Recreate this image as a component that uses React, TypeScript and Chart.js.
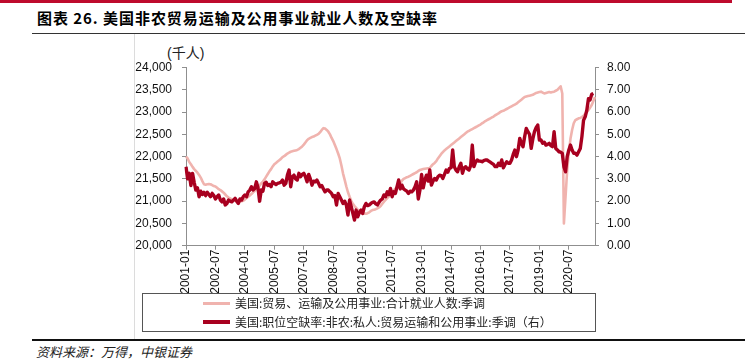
import React, { useEffect, useRef } from 'react';
import { Chart, registerables } from 'chart.js';

Chart.register(...registerables);

// ---- Data ----
const START_YEAR = 2001;
const MONTH_COUNT = 251; // 2001-01 .. 2021-11

const TICK_LABELS = [
  '2001-01', '2002-07', '2004-01', '2005-07', '2007-01', '2008-07', '2010-01',
  '2011-07', '2013-01', '2014-07', '2016-01', '2017-07', '2019-01', '2020-07',
];

const LEFT_TICKS_MIN = 20000;
const LEFT_TICKS_MAX = 24000;
const RIGHT_TICKS_MIN = 0;
const RIGHT_TICKS_MAX = 8;

const SERIES_NAMES = [
  '美国:贸易、运输及公用事业:合计就业人数:季调',
  '美国:职位空缺率:非农:私人:贸易运输和公用事业:季调（右）',
];

// 美国:贸易、运输及公用事业:合计就业人数:季调 (千人)
const EMPLOYMENT = [
  22000, 21960, 21880, 21830, 21770, 21720, 21680, 21640, 21590, 21530, 21450, 21380,
  21370, 21380, 21385, 21380, 21360, 21340, 21330, 21300, 21270, 21250, 21220, 21190,
  21150, 21110, 21080, 21060, 21040, 21020, 21010, 21000, 21000, 20990, 21000, 21010,
  21040, 21070, 21100, 21130, 21160, 21200, 21230, 21270, 21310, 21350, 21400, 21440,
  21490, 21550, 21610, 21670, 21720, 21780, 21830, 21860, 21890, 21920, 21950, 21990,
  22010, 22040, 22070, 22090, 22110, 22120, 22130, 22140, 22150, 22170, 22200, 22230,
  22270, 22320, 22370, 22400, 22420, 22440, 22450, 22470, 22490, 22510, 22550, 22600,
  22640, 22630, 22600, 22560, 22500, 22420, 22350, 22260, 22170, 22070, 21960, 21800,
  21620, 21480, 21330, 21200, 21100, 21010, 20940, 20890, 20850, 20810, 20780, 20750,
  20730, 20720, 20720, 20730, 20750, 20780, 20800, 20810, 20820, 20840, 20860, 20890,
  20940, 20990, 21030, 21070, 21110, 21160, 21200, 21240, 21280, 21320, 21360, 21400,
  21460, 21500, 21520, 21540, 21550, 21570, 21590, 21610, 21630, 21650, 21680, 21700,
  21710, 21720, 21730, 21735, 21740, 21745, 21790, 21830, 21860, 21900, 21960, 22010,
  22060, 22100, 22140, 22170, 22200, 22230, 22260, 22290, 22320, 22350, 22380, 22410,
  22440, 22470, 22500, 22530, 22560, 22580, 22600, 22620, 22640, 22660, 22680, 22700,
  22720, 22750, 22770, 22800, 22820, 22840, 22860, 22880, 22900, 22930, 22950, 22970,
  23000, 23020, 23030, 23050, 23070, 23090, 23110, 23130, 23150, 23170, 23190, 23220,
  23250, 23280, 23310, 23340, 23350, 23360, 23370, 23380, 23390, 23410, 23430, 23440,
  23450, 23460, 23440, 23420, 23430, 23440, 23450, 23440, 23450, 23460, 23480, 23500,
  23540, 23580, 23420, 20500, 21100, 21700, 22100, 22400, 22600, 22750, 22820, 22840,
  22860, 22870, 22890, 22920, 22960, 23000, 23050, 23100, 23160, 23250, 23340,
];

// 美国:职位空缺率:非农:私人:贸易运输和公用事业:季调 (%)
const VACANCY = [
  3.55, 3.0, 3.25, 2.7, 3.25, 2.85, 2.5, 2.6, 2.2, 2.45, 2.3, 2.4,
  2.25, 2.4, 2.3, 2.2, 2.35, 2.25, 2.1, 2.2, 2.28, 2.05, 1.97, 2.1,
  1.83, 1.9, 2.05, 2.0, 1.97, 2.05, 2.13, 2.0, 1.9, 2.1, 2.05, 2.2,
  2.28, 2.2, 2.42, 2.5, 2.65, 2.5, 2.57, 2.87, 2.6, 2.0, 2.5, 2.45,
  2.8, 2.85, 2.7, 2.75, 2.65, 2.87, 2.8, 2.75, 2.8, 2.82, 2.85, 2.95,
  2.72, 2.8, 3.17, 3.4, 2.65, 3.1, 3.17, 3.0, 2.95, 3.25, 3.1, 3.2,
  3.25, 3.1, 2.87, 3.2, 3.0, 2.72, 2.9, 2.87, 2.95, 2.8, 2.65, 2.7,
  2.55, 2.42, 2.5, 2.5, 2.42, 2.35, 2.2, 2.25, 1.83, 2.35, 2.2, 2.05,
  1.9, 2.0, 1.83, 1.38, 2.05, 1.75, 1.45, 1.15, 1.6, 1.3, 1.5, 1.6,
  1.45, 1.75, 1.9, 1.8, 1.83, 1.9, 1.95, 1.97, 1.88, 1.83, 1.95, 2.05,
  2.1, 2.28, 2.2, 2.42, 2.3, 2.57, 2.2, 2.42, 2.35, 2.65, 2.95, 2.55,
  2.72, 2.55, 2.5, 2.45, 2.35, 2.45, 2.42, 2.5, 2.65, 2.87, 2.1, 2.5,
  3.2, 2.6, 2.95, 3.17, 2.9, 3.4, 2.72, 2.9, 3.02, 2.95, 3.1, 3.17,
  3.15, 3.02, 3.2, 3.4, 3.3, 3.47, 3.5, 4.3, 3.55, 3.4, 3.32, 3.55,
  3.7, 3.25, 3.5, 3.55, 3.45, 3.4, 3.6, 4.52, 3.55, 3.75, 3.85, 3.8,
  3.8, 3.77, 3.82, 3.85, 3.85, 3.8, 3.75, 3.7, 3.65, 3.55, 3.55, 3.7,
  3.6, 3.85, 3.5, 3.65, 3.77, 3.7, 3.7, 3.85, 4.1, 4.3, 4.0, 4.3,
  4.82, 4.6, 4.45, 4.9, 5.27, 5.12, 5.0, 4.37, 4.8, 5.12, 5.3, 5.42,
  4.75, 4.75, 4.6, 4.65, 4.52, 4.55, 4.6, 4.5, 4.45, 5.12, 4.37, 4.3,
  4.22, 4.2, 4.15, 3.55, 3.32, 4.0, 4.3, 4.52, 4.3, 4.15, 4.15, 4.07,
  4.22, 4.37, 4.9, 5.64, 5.79, 6.09, 6.6, 6.55, 6.8, 6.84, null,
];

const MONTHS: string[] = [];
for (let i = 0; i < MONTH_COUNT; i++) {
  const y = START_YEAR + Math.floor(i / 12);
  const m = (i % 12) + 1;
  MONTHS.push(`${y}-${String(m).padStart(2, '0')}`);
}

const PINK = '#F0B3AE';
const DARK = '#A8001F';
const AXIS = '#8f8f8f';
const FONT = "'Liberation Sans', Arial, sans-serif";
const CJK = "'Noto Sans CJK SC', 'Noto Sans', sans-serif";

export default function App() {
  const canvasRef = useRef<HTMLCanvasElement | null>(null);

  useEffect(() => {
    if (!canvasRef.current) return;
    const tickSet = new Set(TICK_LABELS);
    const chart = new Chart(canvasRef.current, {
      type: 'line',
      data: {
        labels: MONTHS,
        datasets: [
          {
            label: SERIES_NAMES[1],
            data: VACANCY,
            borderColor: DARK,
            backgroundColor: DARK,
            borderWidth: 3.4,
            pointRadius: 0,
            yAxisID: 'y1',
            order: 1,
          },
          {
            label: SERIES_NAMES[0],
            data: EMPLOYMENT,
            borderColor: PINK,
            backgroundColor: PINK,
            borderWidth: 2.6,
            pointRadius: 0,
            yAxisID: 'y',
            order: 2,
          },
        ],
      },
      options: {
        animation: false,
        responsive: false,
        maintainAspectRatio: false,
        devicePixelRatio: 1,
        layout: { padding: { top: 19.6, left: 0, right: 0, bottom: 0 } },
        plugins: { legend: { display: false }, tooltip: { enabled: false } },
        elements: { line: { tension: 0, borderJoinStyle: 'round', borderCapStyle: 'butt' }, point: { radius: 0 } },
        scales: {
          x: {
            type: 'category',
            offset: false,
            grid: {
              display: true,
              drawOnChartArea: false,
              drawTicks: true,
              tickLength: 4,
              color: (ctx: any) => (tickSet.has(MONTHS[ctx.index]) ? AXIS : 'rgba(0,0,0,0)'),
            },
            border: { display: true, color: AXIS, width: 1 },
            ticks: {
              autoSkip: false,
              maxRotation: 90,
              minRotation: 90,
              padding: 0,
              color: '#111',
              font: { family: FONT, size: 12 },
              callback: (_v: any, idx: number) => (tickSet.has(MONTHS[idx]) ? MONTHS[idx] : ''),
            },
            afterFit: (s: any) => { s.height = 52.3; },
          },
          y: {
            position: 'left',
            min: LEFT_TICKS_MIN,
            max: LEFT_TICKS_MAX,
            grid: { display: true, drawOnChartArea: false, drawTicks: true, tickLength: 4, color: AXIS },
            border: { display: true, color: AXIS, width: 1 },
            ticks: {
              stepSize: 500,
              padding: 10,
              color: '#111',
              font: { family: FONT, size: 12 },
              callback: (v: any) => Number(v).toLocaleString('en-US'),
            },
            afterFit: (s: any) => { s.width = 186; },
          },
          y1: {
            position: 'right',
            min: RIGHT_TICKS_MIN,
            max: RIGHT_TICKS_MAX,
            grid: { display: true, drawOnChartArea: false, drawTicks: true, tickLength: 4, color: AXIS },
            border: { display: true, color: AXIS, width: 1 },
            ticks: {
              stepSize: 1,
              padding: 8,
              color: '#111',
              font: { family: FONT, size: 12 },
              callback: (v: any) => Number(v).toFixed(2),
            },
            afterFit: (s: any) => { s.width = 152; },
          },
        },
      } as any,
    });
    return () => chart.destroy();
  }, []);

  const abs = (style: React.CSSProperties): React.CSSProperties => ({ position: 'absolute', ...style });

  return (
    <div style={{ position: 'fixed', left: 0, top: 0, width: 747, height: 362, background: '#fff', overflow: 'hidden' }}>
      <div style={abs({ left: 0, top: 0, width: 732, height: 3, background: '#BE0A2D' })} />
      <div style={abs({ left: 37, top: 8, fontFamily: CJK, fontWeight: 700, fontSize: 15, lineHeight: '20px', color: '#000', whiteSpace: 'nowrap', letterSpacing: 0.95 })}>
        图表 26. 美国非农贸易运输及公用事业就业人数及空缺率
      </div>
      <div style={abs({ left: 32, top: 33, width: 713, height: 1, background: '#333' })} />
      <div style={abs({ left: 134, top: 34, width: 1, height: 305, background: '#dcdcdc' })} />
      <div style={abs({ left: 167, top: 44, fontFamily: "'Liberation Sans', 'Noto Sans CJK SC', sans-serif", fontSize: 14, lineHeight: '18px', color: '#222', whiteSpace: 'nowrap' })}>
        (千人)
      </div>
      <canvas ref={canvasRef} width={747} height={250} style={abs({ left: 0, top: 48, width: 747, height: 250 })} />
      <div style={abs({ left: 142, top: 293, width: 452, height: 37, border: '1px solid #555', background: 'transparent' })} />
      <div style={abs({ left: 203, top: 301.5, width: 27, height: 3, background: PINK })} />
      <div style={abs({ left: 235, top: 294, fontFamily: CJK, fontSize: 12, lineHeight: '18px', color: '#222', whiteSpace: 'nowrap' })}>
        {SERIES_NAMES[0]}
      </div>
      <div style={abs({ left: 203, top: 320, width: 27, height: 4, background: DARK })} />
      <div style={abs({ left: 235, top: 313, fontFamily: CJK, fontSize: 12, lineHeight: '18px', color: '#222', whiteSpace: 'nowrap' })}>
        {SERIES_NAMES[1]}
      </div>
      <div style={abs({ left: 32, top: 339, width: 713, height: 1.5, background: '#111' })} />
      <div style={abs({ left: 36, top: 343, fontFamily: CJK, fontStyle: 'italic', fontSize: 13, lineHeight: '18px', color: '#222', whiteSpace: 'nowrap' })}>
        资料来源：万得，中银证券
      </div>
    </div>
  );
}
